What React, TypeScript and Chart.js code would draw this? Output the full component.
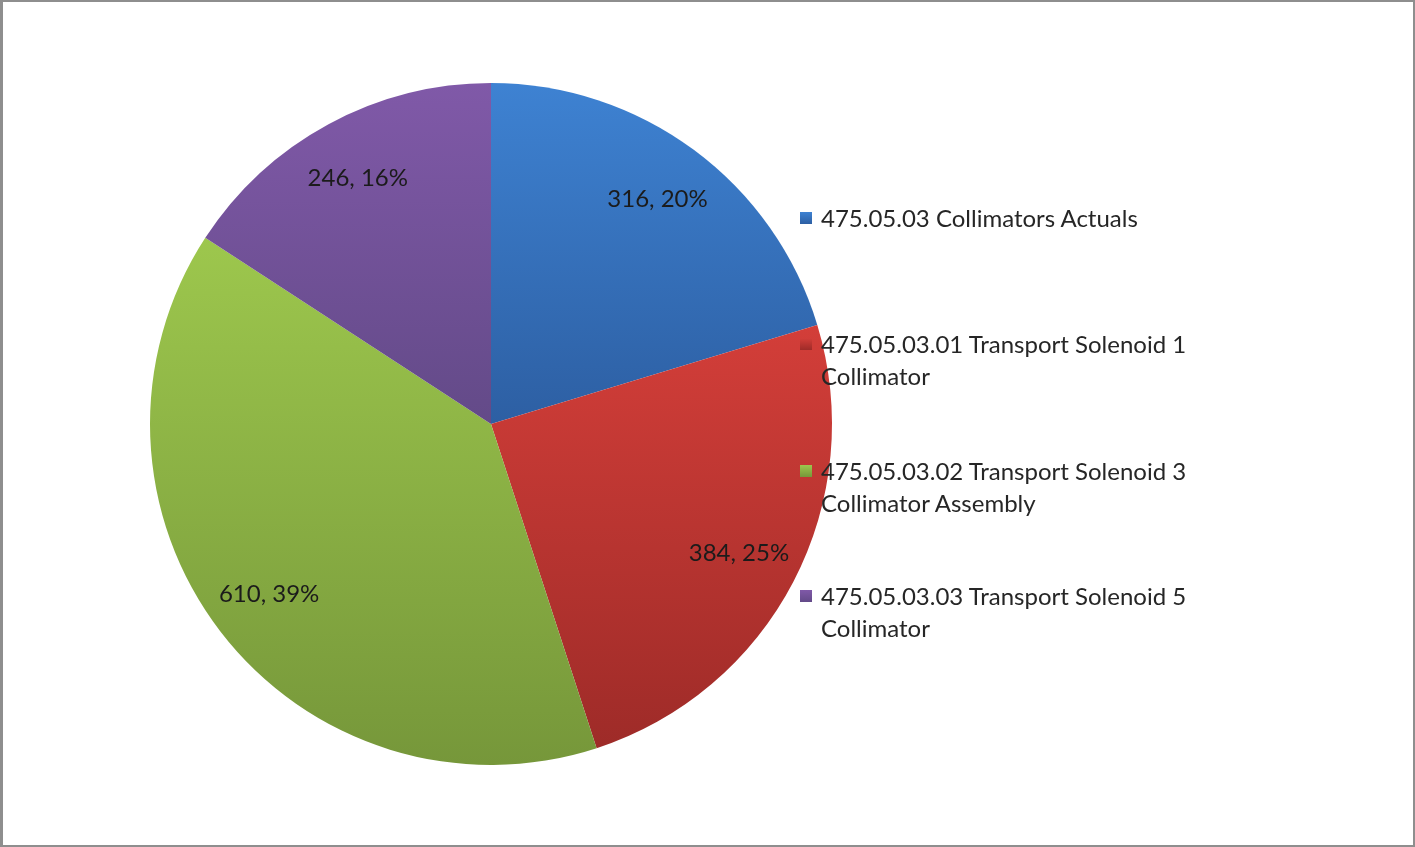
import React, { useEffect, useRef } from "react";
import { Chart, registerables } from "chart.js";

Chart.register(...registerables);

const categories: string[] = [
  "475.05.03 Collimators Actuals",
  "475.05.03.01 Transport Solenoid 1 Collimator",
  "475.05.03.02 Transport Solenoid 3 Collimator Assembly",
  "475.05.03.03 Transport Solenoid 5 Collimator",
];
const legendLines: string[][] = [
  ["475.05.03 Collimators Actuals"],
  ["475.05.03.01 Transport Solenoid 1", "Collimator"],
  ["475.05.03.02 Transport Solenoid 3", "Collimator Assembly"],
  ["475.05.03.03 Transport Solenoid 5", "Collimator"],
];
const values: number[] = [316, 384, 610, 246];
const percentLabels: string[] = ["20%", "25%", "39%", "16%"];
const topColors: string[] = ["#3e82d2", "#d33e39", "#9dc74d", "#8059a8"];
const bottomColors: string[] = ["#2d5fa3", "#9e2b28", "#76973a", "#634a88"];

const FONT = "Lato, 'Open Sans', sans-serif";

function sliceGradient(chart: any, index: number) {
  const area = chart.chartArea;
  if (!area) return topColors[index];
  const cx = (area.left + area.right) / 2;
  const cy = (area.top + area.bottom) / 2;
  const r = Math.min(area.right - area.left, area.bottom - area.top) / 2;
  const total = values.reduce((a, b) => a + b, 0);
  let start = -Math.PI / 2;
  for (let i = 0; i < index; i++) start += (values[i] / total) * Math.PI * 2;
  const end = start + (values[index] / total) * Math.PI * 2;
  let minY = cy;
  let maxY = cy;
  for (let k = 0; k <= 60; k++) {
    const a = start + ((end - start) * k) / 60;
    const y = cy + r * Math.sin(a);
    minY = Math.min(minY, y);
    maxY = Math.max(maxY, y);
  }
  const g = chart.ctx.createLinearGradient(0, minY, 0, maxY);
  g.addColorStop(0, topColors[index]);
  g.addColorStop(1, bottomColors[index]);
  return g;
}

const labelPlugin = {
  id: "sliceLabels",
  afterDatasetsDraw(chart: any) {
    const ctx = chart.ctx;
    const meta = chart.getDatasetMeta(0);
    ctx.save();
    ctx.font = `24px ${FONT}`;
    ctx.fillStyle = "#1b1b1b";
    ctx.textAlign = "center";
    ctx.textBaseline = "middle";
    meta.data.forEach((arc: any, i: number) => {
      const p = arc.getProps(["x", "y", "startAngle", "endAngle", "outerRadius"], true);
      const mid = (p.startAngle + p.endAngle) / 2;
      const d = p.outerRadius * 0.82;
      const x = p.x + Math.cos(mid) * d;
      const y = p.y + Math.sin(mid) * d;
      ctx.fillText(`${values[i]}, ${percentLabels[i]}`, x, y);
    });
    ctx.restore();
  },
};

function PieChart() {
  const ref = useRef<HTMLCanvasElement | null>(null);
  useEffect(() => {
    if (!ref.current) return;
    const chart = new Chart(ref.current, {
      type: "pie",
      data: {
        labels: categories,
        datasets: [
          {
            data: values,
            backgroundColor: (c: any) => sliceGradient(c.chart, c.dataIndex),
            borderWidth: 0,
          },
        ],
      },
      options: {
        responsive: false,
        animation: false,
        devicePixelRatio: 1,
        layout: { padding: { left: 150, right: 583, top: 83, bottom: 82 } },
        plugins: {
          legend: { display: false },
          tooltip: { enabled: false },
        },
      },
      plugins: [labelPlugin],
    });
    return () => chart.destroy();
  }, []);
  return <canvas ref={ref} width={1415} height={847} style={{ position: "absolute", left: 0, top: 0 }} />;
}

const legendTops = [204, 330, 457, 582];

export default function App() {
  return (
    <div
      style={{
        position: "absolute",
        left: 0,
        top: 0,
        width: 1415,
        height: 847,
        background: "#ffffff",
        overflow: "hidden",
      }}
    >
      <PieChart />
      {legendLines.map((lines, i) => (
        <div
          key={i}
          style={{
            position: "absolute",
            left: 800,
            top: legendTops[i],
            fontFamily: FONT,
            fontSize: 24,
            lineHeight: "32px",
            color: "#262626",
          }}
        >
          <div
            style={{
              position: "absolute",
              left: 0,
              top: 8,
              width: 12,
              height: 12,
              background: `linear-gradient(${topColors[i]}, ${bottomColors[i]})`,
            }}
          />
          <div style={{ marginLeft: 21, whiteSpace: "nowrap", marginTop: -2 }}>
            {lines.map((l, j) => (
              <div key={j}>{l}</div>
            ))}
          </div>
        </div>
      ))}
      <div
        style={{
          position: "absolute",
          left: 0,
          top: 0,
          width: 1415,
          height: 847,
          boxSizing: "border-box",
          borderTop: "2px solid #8e8e8e",
          borderLeft: "3px solid #8e8e8e",
          borderRight: "2px solid #8e8e8e",
          borderBottom: "2px solid #8e8e8e",
          pointerEvents: "none",
        }}
      />
    </div>
  );
}
